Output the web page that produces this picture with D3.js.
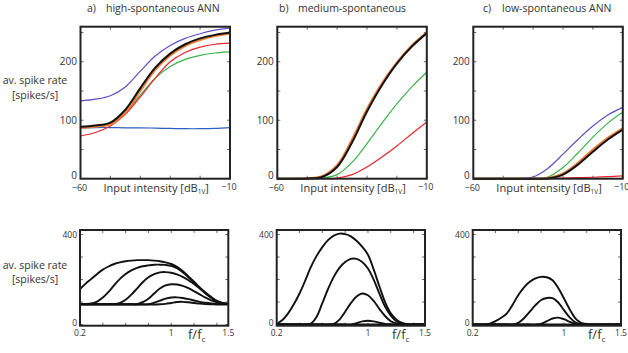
<!DOCTYPE html>
<html>
<head>
<meta charset="utf-8">
<script src="https://cdn.jsdelivr.net/npm/d3@7/dist/d3.min.js"></script>
<style>
  html, body { margin: 0; padding: 0; background: #fff; }
  svg { display: block; }
  text { font-family: "Open Sans", "Noto Sans", sans-serif; fill: #333; }
</style>
</head>
<body>
<svg id="chart" width="628" height="353"></svg>
<script>
// ---------------- DATA ----------------
const panelLetters = ["a)", "b)", "c)"];
const panelTitles = ["high-spontaneous ANN", "medium-spontaneous", "low-spontaneous ANN"];
const yLabelLines = ["av. spike rate", "[spikes/s]"];

// Rate-level functions (input intensity in dB re 1V)
const dB = [-60, -55, -50, -45, -40, -35, -30, -25, -20, -15, -10];
const rateTicks = [0, 100, 200];
const rateMinorTicks = [0, 50, 100, 150, 200, 250];
const dBTicks = [-60, -50, -40, -30, -20, -10];

const highPurple = [133, 136, 142, 157, 184, 210, 228, 240, 248, 254, 258];
const highBlack  = [89, 91, 96, 118, 155, 190, 214, 230, 240, 246, 250];
const highOrange = [87, 89, 93, 113, 150, 186, 211, 227, 237, 244, 248];
const highRed    = [73, 79, 90, 110, 140, 172, 200, 216, 225, 230, 232];
const highGreen  = [88, 90, 95, 113, 143, 172, 192, 204, 211, 215, 217];
const highBlue   = [87, 87.5, 87.5, 87, 87, 86.5, 86, 85.5, 85.5, 86, 87.5];

const medBlack  = [0, 0, 0.5, 3, 20, 62, 115, 160, 197, 226, 249];
const medOrange = [0, 0, 0.7, 4, 23, 67, 119, 163, 199, 228, 250];
const medGreen  = [0, 0, 0, 1, 7, 28, 60, 95, 128, 157, 182];
const medRed    = [0, 0, 0, 0, 1, 7, 20, 37, 56, 77, 97];

const lowPurple = [0, 0, 0, 0, 3, 18, 42, 67, 90, 109, 122];
const lowGreen  = [0, 0, 0, 0, 0, 3, 19, 44, 71, 95, 114];
const lowOrange = [0, 0, 0, 0, 0, 1, 9, 27, 50, 70, 86];
const lowBlack  = [0, 0, 0, 0, 0, 0.5, 7, 24, 46, 67, 84];
const lowRed    = [0, 0, 0, 0, 0, 0.5, 1, 1.8, 2.5, 3.5, 5];

// Tuning curves (frequency relative to CF)
const freq = [0.2, 0.25, 0.3, 0.35, 0.4, 0.45, 0.5, 0.55, 0.6, 0.65, 0.7, 0.75, 0.8, 0.85,
              0.9, 0.95, 1.0, 1.05, 1.1, 1.15, 1.2, 1.25, 1.3, 1.35, 1.4, 1.45, 1.5];
const freqTickLabels = [0.2, 1, 1.5];
const freqMinorTicks = [0.4, 0.6, 0.8, 1.0, 1.2, 1.4];
const tuningTicks = [0, 400];
const tuningMinorTicks = [0, 100, 200, 300, 400];

const highTuning1 = [158,182,203,225,244,258,269,276,281,284,286,286,286,284,281,276,269,256,238,214,190,165,142,122,105,96,92];
const highTuning2 = [92,92,94,102,120,145,175,203,225,241,252,259,263,266,266,265,261,250,232,210,186,162,140,120,104,95,92];
const highTuning3 = [91,91,91,91,91,91,91,96,110,133,160,188,210,224,232,233,230,223,212,197,180,160,138,119,103,95,91];
const highTuning4 = [90,90,90,90,90,90,90,90,90,90,90,100,115,138,160,174,179,178,172,162,148,134,120,108,99,93,91];
const highTuning5 = [90,90,90,90,90,90,90,90,90,90,90,90,90,97,106,115,120,121,118,113,107,101,97,94,92,91,91];
const highTuning6 = [89,89,89,89,89,89,89,89,89,89,89,89,89,89,90,92,96,100,101,99,96,93,91,90,89,89,89];

const medTuning1 = [3,20,50,90,138,195,256,305,344,375,395,404,402,392,372,345,310,245,170,100,50,22,8,2,0,0,0];
const medTuning2 = [0,0,0,0,0,0,5,35,95,158,212,252,278,292,292,278,249,200,138,80,40,15,4,0,0,0,0];
const medTuning3 = [0,0,0,0,0,0,0,0,0,0,3,22,57,95,125,138,130,105,70,38,15,5,1,0,0,0,0];
const medTuning4 = [0,0,0,0,0,0,0,0,0,0,0,0,0,0,6,14,17,14,8,3,1,0,0,0,0,0,0];
const medTuning5 = [0,0,0,0,0,0,0,0,0,0,0,0,0,0,0,0,0,0,0,0,0,0,0,0,0,0,0];

const lowTuning1 = [0,0,0,4,15,30,50,88,131,165,190,205,212,210,197,162,116,68,28,8,2,0,0,0,0,0,0];
const lowTuning2 = [0,0,0,0,0,0,0,0,8,28,57,86,109,118,117,98,64,32,10,2,0,0,0,0,0,0,0];
const lowTuning3 = [0,0,0,0,0,0,0,0,0,0,0,0,3,15,27,31,24,12,3,0,0,0,0,0,0,0,0];
const lowTuning4 = [0,0,0,0,0,0,0,0,0,0,0,0,0,0,0,0,0,0,0,0,0,0,0,0,0,0,0];

// ---------------- STYLE / LAYOUT ----------------
const COL = {
  purple: "#5e4fc4", black: "#111111", orange: "#f07c32",
  red: "#e8252b", green: "#3db24a", blue: "#2a5fbf"
};
const topSeries = [
  [ {v: highBlue, c: "blue", w: 1.2}, {v: highGreen, c: "green", w: 1.2}, {v: highRed, c: "red", w: 1.2},
    {v: highPurple, c: "purple", w: 1.2}, {v: highOrange, c: "orange", w: 2}, {v: highBlack, c: "black", w: 2} ],
  [ {v: medRed, c: "red", w: 1.2}, {v: medGreen, c: "green", w: 1.2},
    {v: medOrange, c: "orange", w: 2.2}, {v: medBlack, c: "black", w: 2} ],
  [ {v: lowRed, c: "red", w: 1.2}, {v: lowPurple, c: "purple", w: 1.2}, {v: lowGreen, c: "green", w: 1.2},
    {v: lowOrange, c: "orange", w: 2.2}, {v: lowBlack, c: "black", w: 2} ]
];
const bottomSeries = [
  [highTuning6, highTuning5, highTuning4, highTuning3, highTuning2, highTuning1],
  [medTuning5, medTuning4, medTuning3, medTuning2, medTuning1],
  [lowTuning4, lowTuning3, lowTuning2, lowTuning1]
];

const svg = d3.select("#chart");

const topX0 = [80.5, 277.3, 473.3], topW = 149.5, topY0 = 26.7, topY1 = 178.7;
const botX0 = [80, 276.7, 472.7], botW = 148.3, botY0 = 230, botY1 = 325.7;
const titleX = [87, 279, 483];
const ffcX = [188, 392, 588];

function frame(g, x0, y0, w, h) {
  g.append("rect").attr("x", x0).attr("y", y0).attr("width", w).attr("height", h)
    .attr("fill", "none").attr("stroke", "#222").attr("stroke-width", 2);
}

const smooth = d3.curveCatmullRom.alpha(0.5);

for (let p = 0; p < 3; p++) {
  // ---------- TOP: rate-level ----------
  const g = svg.append("g");
  const x = d3.scaleLinear().domain([-60, -10]).range([topX0[p], topX0[p] + topW]);
  const y = d3.scaleLinear().domain([0, 260]).range([topY1, topY0]);

  rateMinorTicks.forEach(t => {
    g.append("line").attr("x1", x.range()[0]).attr("x2", x.range()[0] + 3).attr("y1", y(t)).attr("y2", y(t)).attr("stroke", "#444").attr("stroke-width", 0.8);
    g.append("line").attr("x1", x.range()[1]).attr("x2", x.range()[1] - 3).attr("y1", y(t)).attr("y2", y(t)).attr("stroke", "#444").attr("stroke-width", 0.8);
  });
  dBTicks.forEach(t => {
    g.append("line").attr("x1", x(t)).attr("x2", x(t)).attr("y1", topY1).attr("y2", topY1 - 3).attr("stroke", "#444").attr("stroke-width", 0.8);
    g.append("line").attr("x1", x(t)).attr("x2", x(t)).attr("y1", topY0).attr("y2", topY0 + 3).attr("stroke", "#444").attr("stroke-width", 0.8);
  });

  const line = d3.line().x((d, i) => x(dB[i])).y(d => y(Math.max(0, d))).curve(smooth);
  topSeries[p].forEach(s => {
    g.append("path").attr("d", line(s.v)).attr("fill", "none")
      .attr("stroke", COL[s.c]).attr("stroke-width", s.w).attr("stroke-linejoin", "round");
  });
  frame(g, topX0[p], topY0, topW, topY1 - topY0);

  rateTicks.forEach(t => {
    g.append("text").attr("x", topX0[p] - 3.5).attr("y", y(t) + 3.5 - (t === 0 ? 3 : 0))
      .attr("text-anchor", "end").attr("font-size", 10).text(t);
  });
  g.append("text").attr("x", x(-60) - 1).attr("y", 191).attr("text-anchor", "middle").attr("font-size", 9).text("\u221260");
  g.append("text").attr("x", x(-10) - 1).attr("y", 190).attr("text-anchor", "middle").attr("font-size", 9).text("\u221210");

  const xl = g.append("text").attr("x", topX0[p] + topW / 2 + 1).attr("y", 191.5).attr("text-anchor", "middle").attr("font-size", 11);
  xl.append("tspan").text("Input intensity [dB");
  xl.append("tspan").attr("font-size", 6.5).attr("dy", 2.5).text("1V");
  xl.append("tspan").attr("dy", -2.5).text("]");

  const tt = g.append("text").attr("y", 12).attr("font-size", 10.5);
  tt.append("tspan").attr("x", titleX[p]).text(panelLetters[p]);
  tt.append("tspan").attr("x", titleX[p] + 19).text(panelTitles[p]);

  // ---------- BOTTOM: tuning curves ----------
  const gb = svg.append("g");
  const xb = d3.scaleLinear().domain([0.2, 1.5]).range([botX0[p], botX0[p] + botW]);
  const yb = d3.scaleLinear().domain([-5, 420]).range([botY1, botY0]);

  tuningMinorTicks.forEach(t => {
    gb.append("line").attr("x1", botX0[p]).attr("x2", botX0[p] + 3).attr("y1", yb(t)).attr("y2", yb(t)).attr("stroke", "#444").attr("stroke-width", 0.8);
    gb.append("line").attr("x1", botX0[p] + botW).attr("x2", botX0[p] + botW - 3).attr("y1", yb(t)).attr("y2", yb(t)).attr("stroke", "#444").attr("stroke-width", 0.8);
  });
  freqMinorTicks.forEach(t => {
    gb.append("line").attr("x1", xb(t)).attr("x2", xb(t)).attr("y1", botY1).attr("y2", botY1 - 3).attr("stroke", "#444").attr("stroke-width", 0.8);
    gb.append("line").attr("x1", xb(t)).attr("x2", xb(t)).attr("y1", botY0).attr("y2", botY0 + 3).attr("stroke", "#444").attr("stroke-width", 0.8);
  });

  const lineB = d3.line().x((d, i) => xb(freq[i])).y(d => yb(Math.max(0, d))).curve(smooth);
  bottomSeries[p].forEach(v => {
    gb.append("path").attr("d", lineB(v)).attr("fill", "none")
      .attr("stroke", "#111").attr("stroke-width", 1.9).attr("stroke-linejoin", "round");
  });
  frame(gb, botX0[p], botY0, botW, botY1 - botY0);

  tuningTicks.forEach(t => {
    gb.append("text").attr("x", botX0[p] - 3).attr("y", yb(t) + 3 - (t === 0 ? 2 : 0))
      .attr("text-anchor", "end").attr("font-size", 8.5).text(t);
  });
  freqTickLabels.forEach(t => {
    gb.append("text").attr("x", xb(t)).attr("y", 336).attr("text-anchor", "middle").attr("font-size", 8.5).text(t);
  });
  const fl = gb.append("text").attr("x", ffcX[p]).attr("y", 339).attr("font-size", 13);
  fl.append("tspan").text("f/f");
  fl.append("tspan").attr("font-size", 8).attr("dy", 3).text("c");
}

// y-axis labels (left column only)
[[84, 98.5], [269, 283]].forEach(ys => {
  ys.forEach((yy, i) => {
    svg.append("text").attr("x", 35).attr("y", yy).attr("text-anchor", "middle")
      .attr("font-size", 10.5).text(yLabelLines[i]);
  });
});
</script>
</body>
</html>
